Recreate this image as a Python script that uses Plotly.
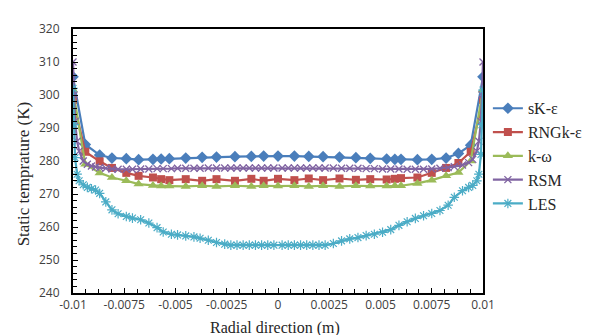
import plotly.graph_objects as go

# ---------------- data ----------------
x_coarse = [-0.01, -0.0094, -0.0087, -0.0081, -0.0074, -0.0068, -0.0061, -0.0057, -0.0053,
            -0.0045, -0.0037, -0.0030, -0.0021, -0.0013, -0.0007, 0.0, 0.0008, 0.0015,
            0.0022, 0.0030, 0.0038, 0.0045, 0.0053, 0.0057, 0.0060, 0.0068, 0.0075,
            0.0082, 0.0088, 0.0094, 0.01]

sk_eps = [305.5, 285.0, 281.8, 280.9, 280.7, 280.4, 280.5, 280.6, 280.7,
          280.9, 281.1, 281.2, 281.3, 281.4, 281.5, 281.5, 281.5, 281.4,
          281.3, 281.2, 281.0, 280.8, 280.6, 280.5, 280.5, 280.4, 280.5,
          280.9, 282.3, 284.8, 305.5]

rng_eps = [298.5, 282.8, 279.9, 277.9, 276.4, 275.5, 275.0, 274.5, 274.2,
           274.5, 274.0, 274.5, 274.0, 274.6, 274.0, 274.6, 274.2, 274.7,
           274.2, 274.7, 274.3, 274.5, 274.4, 274.6, 274.8, 275.0, 276.4,
           277.9, 279.4, 282.8, 298.5]

k_omega = [301.5, 279.0, 276.4, 275.0, 274.0, 273.0, 272.6, 272.4, 272.4,
           272.3, 272.5, 272.3, 272.5, 272.3, 272.5, 272.4, 272.5, 272.3,
           272.5, 272.3, 272.5, 272.4, 272.4, 272.5, 272.5, 273.2, 274.2,
           275.5, 276.5, 280.0, 301.5]

x_fine = [-0.01, -0.00995, -0.0099, -0.0098, -0.0097, -0.0095, -0.0093, -0.0091, -0.0089,
          -0.0087, -0.0084, -0.0081, -0.0078, -0.0074, -0.0071, -0.0067, -0.0063, -0.0059,
          -0.0056, -0.0052, -0.0049, -0.0045, -0.0041, -0.0038, -0.0034, -0.0030, -0.0026,
          -0.0023, -0.0020, -0.0017, -0.0014, -0.0011, -0.0008, -0.0005, -0.0002, 0.0002,
          0.0005, 0.0008, 0.0011, 0.0014, 0.0017, 0.0020, 0.0023, 0.0027, 0.0031,
          0.0035, 0.0039, 0.0043, 0.0047, 0.0051, 0.0055, 0.0059, 0.0063, 0.0067,
          0.0071, 0.0075, 0.0079, 0.0083, 0.0086, 0.0090, 0.0093, 0.0095, 0.0097,
          0.0098, 0.0099, 0.00995, 0.01]

rsm = [310.0, 300.0, 292.0, 286.0, 283.0, 280.0, 279.0, 278.5, 278.2,
       278.0, 277.8, 277.6, 277.5, 277.5, 277.5, 277.6, 277.6, 277.7,
       277.7, 277.7, 277.8, 277.8, 277.8, 277.8, 277.9, 277.9, 277.9,
       277.9, 277.9, 277.9, 277.9, 277.9, 277.9, 277.9, 277.9, 277.9,
       277.9, 277.9, 277.9, 277.9, 277.9, 277.9, 277.9, 277.9, 277.8,
       277.8, 277.8, 277.7, 277.7, 277.6, 277.6, 277.6, 277.5, 277.5,
       277.5, 277.6, 277.8, 278.0, 278.3, 278.8, 279.5, 280.5, 283.0,
       286.0, 292.0, 300.0, 310.0]

les = [302.0, 291.0, 281.0, 276.0, 274.0, 272.8, 272.0, 271.6, 271.2,
       270.2, 267.6, 265.2, 264.0, 263.2, 262.7, 262.2, 261.2, 259.8,
       258.5, 257.8, 257.6, 257.3, 257.0, 256.6, 256.0, 255.3, 254.8,
       254.5, 254.5, 254.5, 254.5, 254.5, 254.5, 254.5, 254.5, 254.5,
       254.5, 254.5, 254.5, 254.5, 254.5, 254.5, 254.5, 255.0, 255.8,
       256.4, 256.8, 257.4, 257.8, 258.4, 259.2, 260.5, 261.6, 262.6,
       263.4, 264.1, 265.0, 266.6, 269.0, 271.0, 272.0, 272.6, 274.0,
       276.0, 282.0, 291.0, 301.5]

series_names = ["sK-ε", "RNGk-ε", "k-ω", "RSM", "LES"]
x_ticks = [-0.01, -0.0075, -0.005, -0.0025, 0, 0.0025, 0.005, 0.0075, 0.01]
x_tick_labels = ["-0.01", "-0.0075", "-0.005", "-0.0025", "0", "0.0025", "0.005", "0.0075", "0.01"]
y_ticks = [240, 250, 260, 270, 280, 290, 300, 310, 320]

# ---------------- figure ----------------
W, H = 592, 335
L, R, T, B = 65, 485, 14, 285

def px_x(p):
    return (p - L) / (R - L)

def px_y(p):
    return (B - p) / (B - T)

fig = go.Figure()
fig.add_trace(go.Scatter(x=x_coarse, y=sk_eps, name=series_names[0], mode="lines+markers",
                         line=dict(color="#4A7EBB", width=2.2),
                         marker=dict(symbol="diamond", size=9, color="#4A7EBB")))
fig.add_trace(go.Scatter(x=x_coarse, y=rng_eps, name=series_names[1], mode="lines+markers",
                         line=dict(color="#C0504D", width=2.2),
                         marker=dict(symbol="square", size=8, color="#C0504D")))
fig.add_trace(go.Scatter(x=x_coarse, y=k_omega, name=series_names[2], mode="lines+markers",
                         line=dict(color="#9BBB59", width=2.2),
                         marker=dict(symbol="triangle-up", size=9, color="#9BBB59")))
fig.add_trace(go.Scatter(x=x_fine, y=rsm, name=series_names[3], mode="lines+markers",
                         line=dict(color="#8064A2", width=2.2),
                         marker=dict(symbol="x-thin-open", size=7, color="#8064A2",
                                     line=dict(color="#8064A2", width=1.3))))
fig.add_trace(go.Scatter(x=x_fine, y=les, name=series_names[4], mode="lines+markers",
                         line=dict(color="#4BACC6", width=2.2),
                         marker=dict(symbol="asterisk-open", size=8, color="#4BACC6",
                                     line=dict(color="#4BACC6", width=1.2))))

tick_font = dict(family="Open Sans, Arial, sans-serif", size=12, color="#404040")

fig.update_xaxes(range=[-0.01, 0.01], tickmode="array", tickvals=x_ticks, ticktext=x_tick_labels,
                 ticks="inside", ticklen=5, tickwidth=1, tickcolor="black",
                 minor=dict(ticks="inside", dtick=0.000625, tick0=-0.01, ticklen=4, tickcolor="black"),
                 showline=True, linecolor="black", linewidth=2, mirror=True,
                 showgrid=False, zeroline=False, tickfont=tick_font, ticklabelstandoff=0)
fig.update_yaxes(range=[240, 320], tickmode="array", tickvals=y_ticks,
                 ticks="inside", ticklen=5, tickwidth=1, tickcolor="black",
                 minor=dict(ticks="inside", dtick=2, tick0=240, ticklen=4, tickcolor="black"),
                 showline=True, linecolor="black", linewidth=2, mirror=True,
                 showgrid=False, zeroline=False, tickfont=tick_font, ticklabelstandoff=9)

fig.add_annotation(text="Static temprature (K)", xref="paper", yref="paper",
                   x=px_x(14), y=px_y(163), textangle=-90, showarrow=False,
                   xanchor="center", yanchor="middle",
                   font=dict(family="Liberation Serif, Times New Roman, serif", size=17, color="#262626"))
fig.add_annotation(text="Radial direction (m)", xref="paper", yref="paper",
                   x=px_x(272), y=px_y(321), showarrow=False,
                   xanchor="center", yanchor="middle",
                   font=dict(family="Liberation Serif, Times New Roman, serif", size=16, color="#262626"))

fig.update_layout(
    width=W, height=H,
    margin=dict(l=L, r=W - R, t=T, b=H - B),
    paper_bgcolor="white", plot_bgcolor="white",
    showlegend=True,
    legend=dict(x=px_x(490), y=px_y(78), xanchor="left", yanchor="top",
                font=dict(family="Liberation Serif, Times New Roman, serif", size=16, color="#262626"),
                bgcolor="rgba(0,0,0,0)", borderwidth=0, itemwidth=30, tracegroupgap=0),
)

fig.write_html("out.html")
